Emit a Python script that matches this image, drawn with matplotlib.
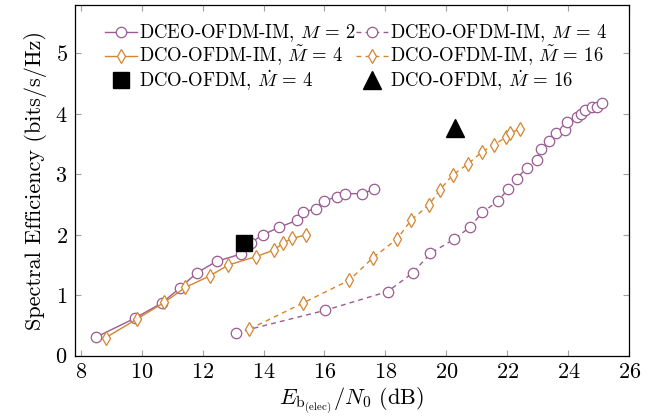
import matplotlib
matplotlib.use("Agg")
import matplotlib.pyplot as plt

plt.rcParams['font.family'] = ['cmr10', 'DejaVu Serif']
plt.rcParams['mathtext.fontset'] = 'cm'
plt.rcParams['axes.formatter.use_mathtext'] = True

# DCEO-OFDM-IM, M = 2
x_dceo2 = [8.52, 9.78, 10.66, 11.26, 11.81, 12.46, 13.25, 13.58, 13.98, 14.5, 15.1, 15.29,
           15.71, 15.99, 16.41, 16.68, 17.24, 17.61]
y_dceo2 = [0.31, 0.62, 0.87, 1.12, 1.37, 1.56, 1.68, 1.87, 2.0, 2.12, 2.24, 2.37,
           2.43, 2.56, 2.63, 2.68, 2.68, 2.75]
# DCO-OFDM-IM, M~ = 4
x_dcoim4 = [8.83, 9.86, 10.74, 11.44, 12.24, 12.85, 13.76, 14.36, 14.65, 14.95, 15.4]
y_dcoim4 = [0.30, 0.61, 0.88, 1.13, 1.32, 1.50, 1.64, 1.75, 1.87, 1.94, 2.0]
# DCEO-OFDM-IM, M = 4
x_dceo4 = [13.1, 16.02, 18.07, 18.9, 19.47, 20.26, 20.76, 21.18, 21.7, 22.01, 22.32, 22.63,
           22.98, 23.11, 23.36, 23.61, 23.89, 23.94, 24.27, 24.4, 24.56, 24.76, 24.95, 25.09]
y_dceo4 = [0.38, 0.75, 1.06, 1.37, 1.69, 1.93, 2.12, 2.37, 2.56, 2.75, 2.93, 3.11,
           3.24, 3.42, 3.55, 3.68, 3.74, 3.87, 3.95, 4.0, 4.07, 4.12, 4.12, 4.18]
# DCO-OFDM-IM, M~ = 16
x_dcoim16 = [13.54, 15.29, 16.82, 17.59, 18.38, 18.84, 19.42, 19.78, 20.21, 20.7, 21.17,
             21.57, 21.97, 22.07, 22.43]
y_dcoim16 = [0.44, 0.87, 1.25, 1.62, 1.93, 2.24, 2.49, 2.74, 2.99, 3.17, 3.37,
             3.49, 3.62, 3.68, 3.75]
# DCO-OFDM reference points
x_dco4, y_dco4 = [13.36], [1.87]
x_dco16, y_dco16 = [20.27], [3.77]

x_ticks = [8, 10, 12, 14, 16, 18, 20, 22, 24, 26]
y_ticks = [0, 1, 2, 3, 4, 5]

purple = '#9b5b93'
orange = '#d4852f'

fig = plt.figure(figsize=(6.56, 4.16), dpi=100)
ax = fig.add_axes([0.1136, 0.145, 0.8457, 0.843])

lw = 1.0
ms = 7.5
h1, = ax.plot(x_dceo2, y_dceo2, '-', color=purple, lw=lw, marker='o', ms=ms,
              mfc='white', mec=purple, mew=0.9,
              label=r'DCEO-OFDM-IM, $M$ = 2')
h2, = ax.plot(x_dcoim4, y_dcoim4, '-', color=orange, lw=lw, marker='d', ms=ms,
              mfc='white', mec=orange, mew=0.9,
              label=r'DCO-OFDM-IM, $\tilde{M}$ = 4')
h3, = ax.plot(x_dceo4, y_dceo4, '--', color=purple, lw=lw, marker='o', ms=ms,
              mfc='white', mec=purple, mew=0.9, dashes=(3.5, 3),
              label=r'DCEO-OFDM-IM, $M$ = 4')
h4, = ax.plot(x_dcoim16, y_dcoim16, '--', color=orange, lw=lw, marker='d', ms=ms,
              mfc='white', mec=orange, mew=0.9, dashes=(3.5, 3),
              label=r'DCO-OFDM-IM, $\tilde{M}$ = 16')
h5, = ax.plot(x_dco4, y_dco4, linestyle='none', marker='s', ms=11, color='black',
              label=r'DCO-OFDM, $\dot{M}$ = 4', zorder=5)
h6, = ax.plot(x_dco16, y_dco16, linestyle='none', marker='^', ms=13, color='black',
              label=r'DCO-OFDM, $\dot{M}$ = 16', zorder=5)

ax.set_xlim(7.8, 26)
ax.set_ylim(0, 5.8)
ax.set_xticks(x_ticks)
ax.set_yticks(y_ticks)
ax.tick_params(direction='in', length=4.5, width=0.8, color='#a0a0a0',
               top=True, right=True, labelsize=16, pad=5)
for s in ax.spines.values():
    s.set_linewidth(0.9)

ax.set_xlabel(r'$E_{\mathrm{b}_{(\mathrm{elec})}}/N_0$ (dB)', fontsize=16, labelpad=2)
ax.set_ylabel('Spectral Efficiency (bits/s/Hz)', fontsize=16, labelpad=6)

leg = ax.legend(handles=[h1, h2, h5, h3, h4, h6], ncol=2, loc='upper left',
                bbox_to_anchor=(0.042, 0.972), frameon=False, fontsize=13.5,
                handlelength=1.7, handleheight=0.7, handletextpad=0.1,
                columnspacing=0.0, labelspacing=0.0, borderaxespad=0.2,
                borderpad=0.2)

fig.savefig('out.png', dpi=100)
